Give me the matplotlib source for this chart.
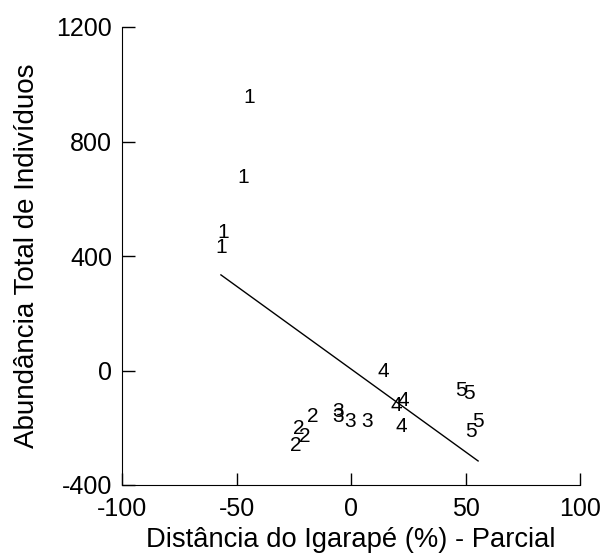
import numpy as np
import matplotlib
matplotlib.use("Agg")
import matplotlib.pyplot as plt

plt.rcParams['font.family'] = ['Liberation Sans', 'DejaVu Sans']
plt.rcParams['axes.unicode_minus'] = False

# rotulos dos pontos (grupo) e coordenadas
grupo = ['1', '1', '1', '1',
         '2', '2', '2', '2',
         '3', '3', '3', '3',
         '4', '4', '4', '4',
         '5', '5', '5', '5']
x_pts = [-44.5, -47.2, -55.9, -56.8,
         -16.6, -23.0, -20.0, -24.0,
         -5.7, -5.7, -0.4, 7.0,
         14.0, 22.7, 19.6, 21.8,
         48.0, 51.5, 55.5, 52.4]
y_pts = [953, 675, 483, 428,
         -160, -202, -230, -261,
         -143, -160, -178, -177,
         -3, -104, -121, -195,
         -70, -80, -178, -212]

# reta de regressao parcial
x_reta = [-56.8, 55.5]
y_reta = [334, -316]

fig = plt.figure(figsize=(6.06, 5.57), dpi=100)
ax = fig.add_axes([122 / 606, 1 - 485 / 557, 458 / 606, 458 / 557])

for g, x, y in zip(grupo, x_pts, y_pts):
    ax.text(x, y, g, fontsize=15, ha='center', va='center')

ax.plot(x_reta, y_reta, color='black', lw=1)

ax.set_xlim(-100, 100)
ax.set_ylim(-400, 1200)
ax.set_xticks([-100, -50, 0, 50, 100])
ax.set_yticks([-400, 0, 400, 800, 1200])

ax.spines['top'].set_visible(False)
ax.spines['right'].set_visible(False)
ax.tick_params(direction='in', length=9, width=1, labelsize=18)
ax.tick_params(axis='x', pad=9)
ax.tick_params(axis='y', pad=7)

ax.set_xlabel('Distância do Igarapé (%) - Parcial', fontsize=19.7, labelpad=4)
ax.set_ylabel('Abundância Total de Indivíduos', fontsize=20, labelpad=12)

fig.savefig('out.png', dpi=100)
